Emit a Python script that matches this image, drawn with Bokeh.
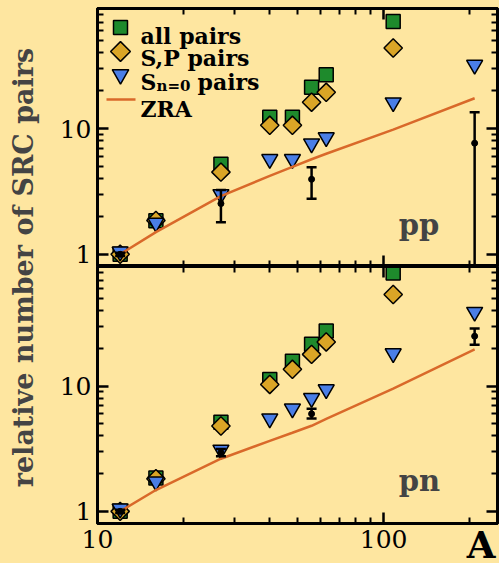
import math

from bokeh.core.properties import value
from bokeh.embed import file_html
from bokeh.layouts import column, row
from bokeh.models import (CustomJSTickFormatter, FixedTicker, Label, LinearScale, LogAxis,
                          NumeralTickFormatter, Range1d, Title)
from bokeh.plotting import figure
from bokeh.resources import INLINE

# mass numbers of the nuclei
A = [12, 16, 27, 40, 48, 56, 63, 108, 208]
A_exp = [12, 27, 56, 208]

# pp SRC pairs relative to 12C
pp_all = [1.0, 1.85, 5.2, 12.3, 12.3, 21.3, 26.8, 71.0]
pp_sp = [1.0, 1.86, 4.5, 10.6, 10.6, 16.2, 19.4, 43.7]
pp_sn0 = [1.05, 1.78, 3.0, 5.7, 5.7, 7.6, 8.5, 16.1, 32.0]
pp_zra = [1.0, 1.5, 2.9, 4.2, 4.95, 5.7, 6.3, 9.8, 17.4]
pp_exp = [1.0, 2.53, 3.95, 7.65]
pp_exp_lo = [0.97, 1.8, 2.77, 0.6]
pp_exp_hi = [1.03, 3.25, 4.93, 13.5]

# pn SRC pairs relative to 12C
pn_all = [1.0, 1.85, 5.15, 11.3, 15.8, 21.6, 27.5, 80.0]
pn_sp = [1.0, 1.82, 4.8, 10.3, 13.6, 17.9, 22.5, 53.8]
pn_sn0 = [1.05, 1.73, 3.1, 5.5, 6.6, 8.0, 9.4, 18.2, 39.0]
pn_zra = [1.0, 1.48, 2.63, 3.65, 4.24, 4.82, 5.47, 9.53, 19.6]
pn_exp = [1.0, 2.95, 6.0, 25.0]
pn_exp_lo = [0.97, 2.75, 5.5, 21.4]
pn_exp_hi = [1.03, 3.15, 6.6, 28.8]

x_major = [10, 100]
x_minor = [20, 30, 40, 50, 60, 70, 80, 90, 200]
y_major = [1, 10]
y_minor = [2, 3, 4, 5, 6, 7, 8, 9, 20, 30, 40, 50, 60, 70, 80, 90]

series_names = ["all pairs", "S,P pairs", "S", "ZRA"]

XMIN, XMAX = 10, 250
YMIN, YMAX = 0.8, 90

BG = "#fee6a0"
SERIF = "DejaVu Serif"
GREEN = "#1e8a2c"
GOLD = "#daa526"
BLUE = "#4a7ee6"
ORANGE = "#d9692a"

# layout (pixels)
LEFT_STRIP = 50      # column holding the y title
PAD_LEFT = 47        # room for the y tick numbers
FRAME_W = 400
TOP_H, BOT_H = 266, 297
FRAME_H_TOP = TOP_H - 8

SQ = dict(marker="square", size=14, fill_color=GREEN, line_color="black", line_width=1.5)
DI = dict(marker="square", angle=math.pi / 4, size=13, fill_color=GOLD,
          line_color="black", line_width=1.5)
TR = dict(marker="inverted_triangle", size=16, fill_color=BLUE, line_color="black",
          line_width=1.5)
LN = dict(line_color=ORANGE, line_width=2.5)


def style_axis(ax, major, minor, labels):
    ax.ticker = FixedTicker(ticks=major, minor_ticks=minor)
    ax.axis_line_width = 3
    ax.major_tick_in = 11
    ax.major_tick_out = 0
    ax.minor_tick_in = 6
    ax.minor_tick_out = 0
    ax.major_tick_line_width = 2.5
    ax.minor_tick_line_width = 2
    if labels:
        ax.formatter = NumeralTickFormatter(format="0")
        ax.major_label_text_font = SERIF
        ax.major_label_text_font_size = "25px"
        ax.major_label_text_color = "black"
        ax.major_label_standoff = 6
    else:
        # tick marks only, no numbers
        ax.formatter = CustomJSTickFormatter(code="return ''")
        ax.major_label_text_font_size = "1px"
        ax.major_label_standoff = 0


def panel(height, top, bottom, name, all_v, sp_v, sn0_v, zra_v, e_v, e_lo, e_hi,
          name_y, x_labels):
    p = figure(width=PAD_LEFT + FRAME_W + 2, height=height,
               x_axis_type="log", y_axis_type="log",
               x_range=Range1d(XMIN, XMAX), y_range=Range1d(YMIN, YMAX),
               output_backend="svg", toolbar_location=None,
               background_fill_color=BG, border_fill_color=BG,
               min_border_left=PAD_LEFT, min_border_right=2,
               min_border_top=top, min_border_bottom=bottom)
    p.grid.visible = False
    p.outline_line_color = "black"
    p.outline_line_width = 3

    style_axis(p.xaxis[0], x_major, x_minor, x_labels)
    style_axis(p.yaxis[0], y_major, y_minor, True)
    right = LogAxis()
    above = LogAxis()
    style_axis(right, y_major, y_minor, False)
    style_axis(above, x_major, x_minor, False)
    p.add_layout(right, "right")
    p.add_layout(above, "above")

    n = len(all_v)
    p.scatter(A[:n], all_v, **SQ)
    p.scatter(A[:n], sp_v, **DI)
    p.scatter(A, sn0_v, **TR)
    p.line(A, zra_v, **LN)

    # measured ratios with error bars
    p.segment(x0=A_exp, y0=e_lo, x1=A_exp, y1=e_hi, line_color="black", line_width=2.5)
    p.scatter(A_exp, e_lo, marker="dash", size=10, line_color="black", line_width=2.5)
    p.scatter(A_exp, e_hi, marker="dash", size=10, line_color="black", line_width=2.5)
    p.scatter(A_exp, e_v, marker="circle", size=6, fill_color="black", line_color="black")

    p.add_layout(Label(x=113, y=name_y, text=name, text_font=SERIF,
                       text_font_style="bold", text_font_size="29px",
                       text_baseline="alphabetic"))
    return p


top_fig = panel(TOP_H, 8, 0, "pp", pp_all, pp_sp, pp_sn0, pp_zra,
                pp_exp, pp_exp_lo, pp_exp_hi, 1.72, False)
bot_fig = panel(BOT_H, 0, 40, "pn", pn_all, pn_sp, pn_sn0, pn_zra,
                pn_exp, pn_exp_lo, pn_exp_hi, 1.75, True)

# axis letter at the right-hand end of the lower x axis, pulled up level with the numbers
bot_fig.add_layout(Title(text="A", align="right", vertical_align="top",
                         text_font=SERIF, text_font_style="bold",
                         text_font_size="37px", text_color="black",
                         standoff=-56, offset=2), "below")

# key in the upper panel, laid out in frame pixels (y measured downwards)
top_fig.extra_x_ranges = {"px": Range1d(0, FRAME_W)}
top_fig.extra_y_ranges = {"px": Range1d(FRAME_H_TOP, 0)}
top_fig.extra_x_scales = {"px": LinearScale()}
top_fig.extra_y_scales = {"px": LinearScale()}
key = dict(x_range_name="px", y_range_name="px")
sw_x, line_x0, line_x1, txt_x = 23, 9, 38, 43
top_fig.scatter([sw_x], [19], **{**SQ, "size": 14}, **key)
top_fig.scatter([sw_x], [43], **{**DI, "size": 14}, **key)
top_fig.scatter([sw_x], [66], **{**TR, "size": 16.5}, **key)
top_fig.segment(x0=[line_x0], y0=[91], x1=[line_x1], y1=[91], **LN, **key)
key_text = dict(text_font=value(SERIF), text_font_style="bold",
                text_baseline="alphabetic", text_align="left", **key)
top_fig.text(x=[txt_x] * 4, y=[27, 49.5, 73, 100], text=series_names,
             text_font_size=value("22px"), **key_text)
top_fig.text(x=[txt_x + 16], y=[77], text=["n=0"], text_font_size=value("15px"), **key_text)
top_fig.text(x=[txt_x + 57], y=[73], text=["pairs"], text_font_size=value("22px"), **key_text)

# narrow strip carrying the shared y-axis title
H = TOP_H + BOT_H
ylab = figure(width=LEFT_STRIP, height=H, x_range=Range1d(0, LEFT_STRIP),
              y_range=Range1d(H, 0), x_axis_location=None, y_axis_location=None,
              output_backend="svg", toolbar_location=None,
              background_fill_color=BG, border_fill_color=BG, min_border=0)
ylab.grid.visible = False
ylab.outline_line_color = None
ylab.add_layout(Label(x=23, y=267, text="relative number of SRC pairs",
                      text_font=SERIF, text_font_style="bold",
                      text_font_size="27px", angle=math.pi / 2,
                      text_align="center", text_baseline="alphabetic"))

layout = row(ylab, column(top_fig, bot_fig, spacing=0), spacing=0)
layout.styles = {"background-color": BG}

open("out.html", "w").write(file_html(layout, INLINE))
